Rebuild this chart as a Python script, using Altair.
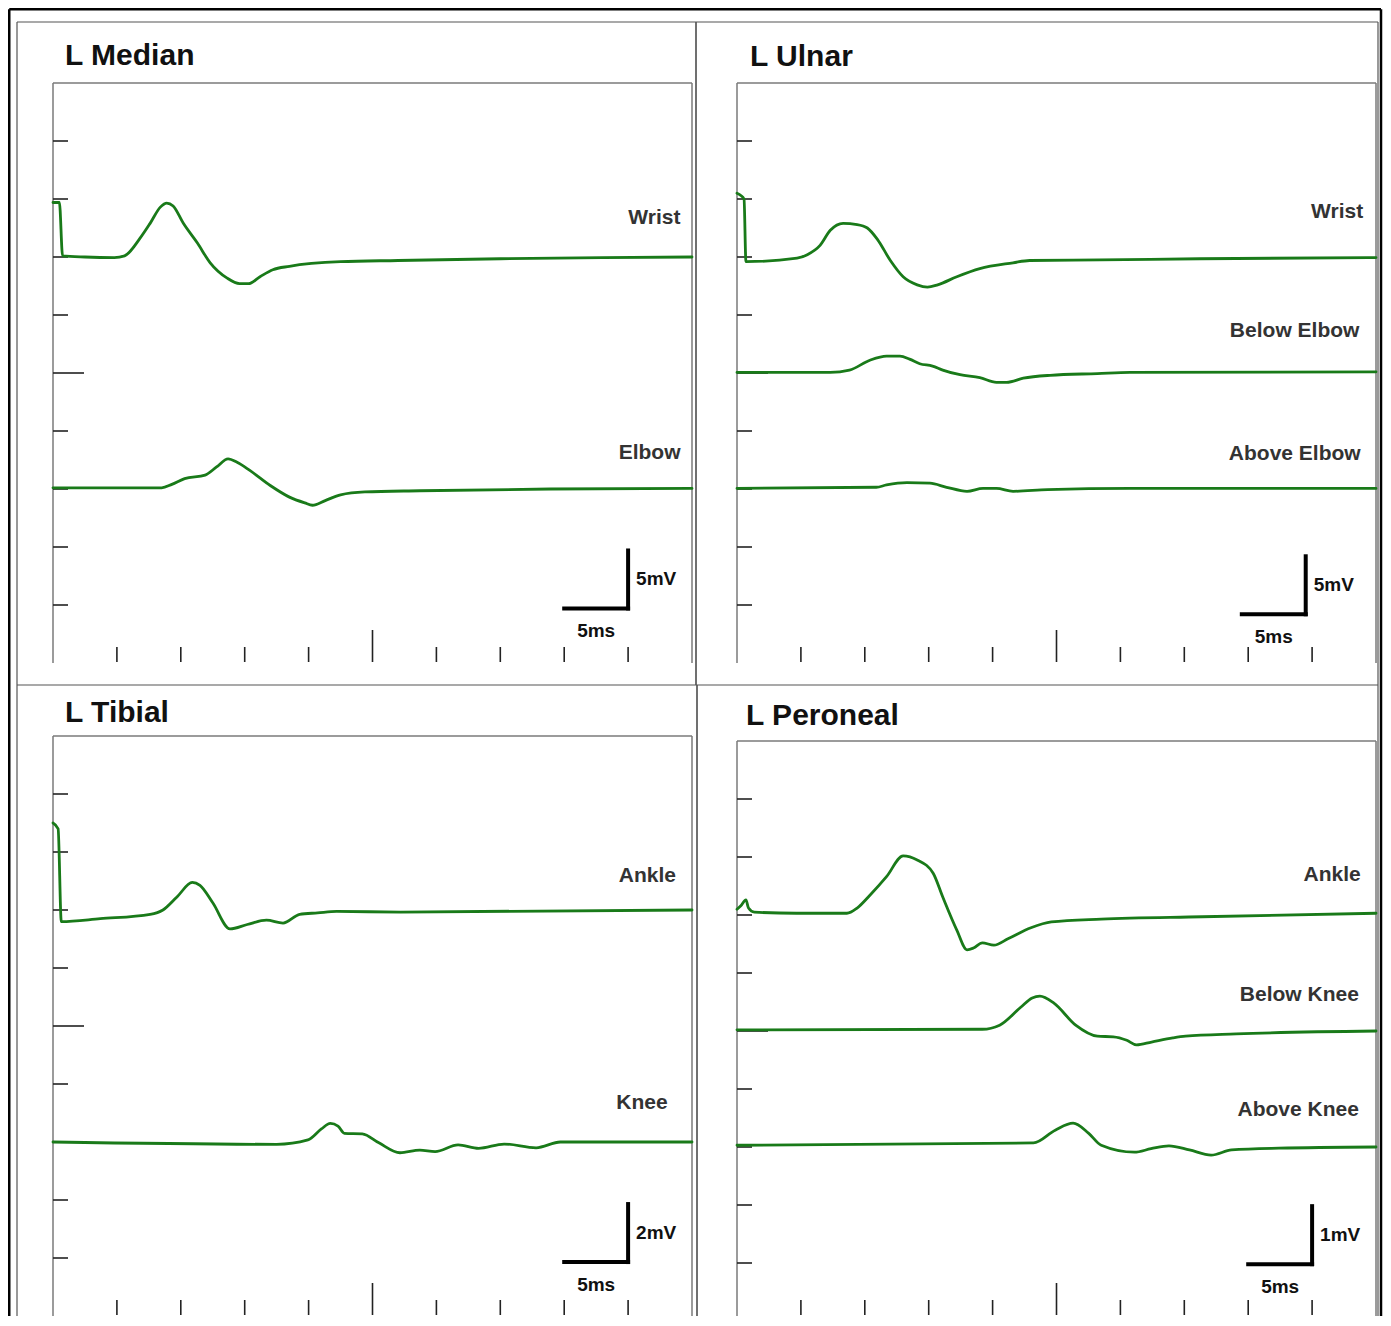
import altair as alt
import pandas as pd

# ---------------- data: time in ms, amplitude in mV ----------------
# L Median (5 mV / div)
median_wrist_t = [0, 0.5, 0.75, 2.5, 4.8, 5.6, 6.8, 7.6, 8.4, 8.9, 9.4, 10.2, 11.3, 12.3, 13.6, 14.6, 15.3, 16.2, 17.2, 18.5, 22.5, 27.0, 35.0, 43.0, 50.0]
median_wrist_v = [39.7, 39.7, 35.1, 35.0, 34.95, 35.1, 36.6, 37.9, 39.3, 39.65, 39.4, 37.9, 36.2, 34.5, 33.2, 32.7, 32.7, 33.3, 33.9, 34.2, 34.6, 34.7, 34.85, 34.95, 35.0]
median_elbow_t = [0, 8.5, 9.3, 10.3, 11.9, 12.8, 13.7, 14.4, 15.4, 17.0, 18.5, 19.7, 20.3, 21.3, 22.5, 24.4, 28.7, 38.9, 50]
median_elbow_v = [15.1, 15.1, 15.4, 15.9, 16.2, 16.9, 17.6, 17.3, 16.6, 15.3, 14.3, 13.8, 13.6, 14.0, 14.5, 14.75, 14.85, 15.0, 15.05]

# L Ulnar (5 mV / div)
ulnar_wrist_t = [0, 0.3, 0.55, 0.7, 4.7, 5.5, 6.5, 7.3, 8.3, 9.4, 10.2, 11.0, 12.0, 13.0, 14.1, 14.9, 15.7, 17.2, 19.0, 21.6, 22.9, 28.4, 36.2, 50]
ulnar_wrist_v = [40.5, 40.3, 40.0, 34.6, 34.9, 35.2, 36.0, 37.3, 37.9, 37.8, 37.5, 36.5, 34.7, 33.3, 32.6, 32.4, 32.6, 33.3, 34.0, 34.5, 34.7, 34.75, 34.85, 34.95]
ulnar_below_t = [0, 7.3, 8.8, 10.4, 11.7, 12.75, 13.5, 14.3, 15.3, 16.1, 17.45, 19.0, 20.3, 21.1, 22.4, 24.5, 28.2, 30.75, 50]
ulnar_below_v = [25.05, 25.05, 25.25, 26.1, 26.45, 26.45, 26.2, 25.8, 25.6, 25.25, 24.85, 24.6, 24.2, 24.2, 24.55, 24.8, 24.95, 25.05, 25.1]
ulnar_above_t = [0, 10.9, 11.7, 13.3, 15.1, 16.4, 18.0, 19.25, 20.3, 21.6, 24.3, 30.75, 50]
ulnar_above_v = [15.05, 15.15, 15.35, 15.55, 15.5, 15.15, 14.8, 15.05, 15.05, 14.8, 14.95, 15.05, 15.05]

# L Tibial (2 mV / div)
tibial_ankle_t = [0, 0.4, 0.65, 3.7, 7.6, 8.6, 9.7, 10.9, 11.5, 12.5, 13.85, 15.2, 16.7, 18.0, 19.3, 20.7, 22.2, 27.2, 50]
tibial_ankle_v = [17.0, 16.8, 13.6, 13.7, 13.85, 14.0, 14.45, 14.95, 14.85, 14.25, 13.35, 13.5, 13.65, 13.55, 13.85, 13.9, 13.95, 13.93, 14.0]
tibial_knee_t = [0, 17.5, 19.95, 21.0, 21.7, 22.3, 22.8, 24.2, 25.5, 27.15, 28.7, 29.9, 31.7, 33.3, 35.3, 37.8, 39.7, 50]
tibial_knee_v = [6.0, 5.92, 6.07, 6.45, 6.64, 6.55, 6.3, 6.28, 5.97, 5.63, 5.72, 5.67, 5.9, 5.78, 5.93, 5.8, 6.0, 6.0]

# L Peroneal (1 mV / div)
peroneal_ankle_t = [0, 0.3, 0.7, 0.9, 1.35, 4.65, 8.6, 9.4, 10.4, 11.7, 13.0, 14.1, 15.35, 16.1, 17.2, 18.0, 18.5, 19.2, 20.1, 21.2, 23.0, 24.6, 28.5, 36.4, 50]
peroneal_ankle_v = [7.1, 7.16, 7.26, 7.12, 7.05, 7.03, 7.03, 7.12, 7.34, 7.66, 8.02, 7.95, 7.72, 7.31, 6.74, 6.4, 6.43, 6.52, 6.48, 6.59, 6.78, 6.88, 6.93, 6.97, 7.03]
peroneal_below_t = [0, 19.2, 20.55, 22.2, 23.1, 23.7, 24.8, 26.5, 28.2, 29.45, 30.5, 31.26, 32.44, 34.1, 35.1, 39.06, 50]
peroneal_below_v = [5.02, 5.03, 5.1, 5.41, 5.57, 5.6, 5.48, 5.1, 4.91, 4.9, 4.84, 4.76, 4.81, 4.88, 4.91, 4.95, 5.0]
peroneal_above_t = [0, 23.2, 24.9, 26.3, 27.5, 28.5, 31.1, 32.4, 33.8, 35.4, 37.1, 38.7, 42.4, 50]
peroneal_above_v = [3.03, 3.07, 3.29, 3.41, 3.24, 3.03, 2.91, 2.97, 3.02, 2.95, 2.86, 2.95, 2.98, 3.0]

# trace labels (name, time, amplitude)
median_labels = {"name": ["Wrist", "Elbow"], "t": [49.1, 49.1], "v": [38.4, 18.1]}
ulnar_labels = {"name": ["Wrist", "Below Elbow", "Above Elbow"], "t": [49.0, 48.7, 48.8], "v": [38.9, 28.6, 18.0]}
tibial_labels = {"name": ["Ankle", "Knee"], "t": [48.75, 48.1], "v": [15.17, 7.34]}
peroneal_labels = {"name": ["Ankle", "Below Knee", "Above Knee"], "t": [48.8, 48.66, 48.66], "v": [7.69, 5.62, 3.64]}

# calibration bars: corner (time, amplitude)
median_bar = (45.0, 4.7)
ulnar_bar = (44.5, 4.2)
tibial_bar = (45.0, 1.86)
peroneal_bar = (45.0, 0.98)

X_TICKS = [5, 10, 15, 20, 30, 35, 40, 45]
X_MAJOR = [25]
SWEEP_MS = 50
BAR_MS = 5

# ---------------- styling ----------------
GREEN = "#197a19"
FONT = "Liberation Sans"
TICK = "#222222"
BOX = "#7a7a7a"
FRAME = "#555555"
W, H = 639, 580
ONE = alt.Data(values=[{"k": 0}])


def vrule(x, y1, y2, color, width):
    return alt.Chart(ONE).mark_rule(color=color, strokeWidth=width).encode(
        x=alt.value(x), y=alt.value(y1), y2=alt.value(y2))


def hrule(y, x1, x2, color, width):
    return alt.Chart(ONE).mark_rule(color=color, strokeWidth=width).encode(
        y=alt.value(y), x=alt.value(x1), x2=alt.value(x2))


def panel(title, title_xy, traces, labels, unit, corner, unit_text, frame, shift=0, extra=None):
    vmax = unit * 10
    off = shift * vmax / H  # move the recording window down by `shift` pixels
    xs = alt.Scale(domain=[0, SWEEP_MS], nice=False, zero=False)
    ys = alt.Scale(domain=[off, vmax + off], nice=False, zero=False)

    def X(f):
        return alt.X(f, type="quantitative", scale=xs, axis=None)

    def Y(f):
        return alt.Y(f, type="quantitative", scale=ys, axis=None)

    rows = [{"trace": n, "t": t, "v": v} for n, ts, vs in traces for t, v in zip(ts, vs)]
    lines = alt.Chart(pd.DataFrame(rows)).mark_line(
        color=GREEN, strokeWidth=2.8, interpolate="monotone",
        strokeJoin="round", strokeCap="round"
    ).encode(x=X("t"), y=Y("v"), detail="trace:N")

    xt = alt.Chart(pd.DataFrame({"t": X_TICKS})).mark_rule(color=TICK, strokeWidth=1.6).encode(
        x=X("t"), y=alt.value(H - 1), y2=alt.value(H - 16))
    xt_long = alt.Chart(pd.DataFrame({"t": X_MAJOR})).mark_rule(color=TICK, strokeWidth=1.6).encode(
        x=X("t"), y=alt.value(H - 1), y2=alt.value(H - 33))
    y_minor = [unit * k for k in (1, 2, 3, 4, 6, 7, 8, 9)]
    yt = alt.Chart(pd.DataFrame({"v": y_minor})).mark_rule(color=TICK, strokeWidth=1.6).encode(
        y=Y("v"), x=alt.value(0), x2=alt.value(15))
    yt_long = alt.Chart(pd.DataFrame({"v": [unit * 5]})).mark_rule(color=TICK, strokeWidth=1.6).encode(
        y=Y("v"), x=alt.value(0), x2=alt.value(31))

    lab = alt.Chart(pd.DataFrame(labels)).mark_text(
        align="right", baseline="middle", font=FONT, fontSize=21, fontWeight="bold", color="#333333"
    ).encode(x=X("t"), y=Y("v"), text="name:N")

    ct, cv = corner
    bar_df = pd.DataFrame({"t": [ct - BAR_MS, ct], "t2": [ct, ct], "v": [cv, cv], "v2": [cv, cv + unit]})
    bar = alt.Chart(bar_df).mark_rule(color="black", strokeWidth=4, strokeCap="square").encode(
        x=X("t"), x2="t2:Q", y=Y("v"), y2="v2:Q")
    mv = alt.Chart(pd.DataFrame({"t": [ct], "v": [cv + unit / 2], "s": [unit_text]})).mark_text(
        align="left", baseline="middle", dx=8, font=FONT, fontSize=19, fontWeight="bold", color="#111111"
    ).encode(x=X("t"), y=Y("v"), text="s:N")
    ms = alt.Chart(pd.DataFrame({"t": [ct - BAR_MS / 2], "v": [cv], "s": ["5ms"]})).mark_text(
        align="center", baseline="middle", dy=23, font=FONT, fontSize=19, fontWeight="bold", color="#111111"
    ).encode(x=X("t"), y=Y("v"), text="s:N")

    box = [vrule(0, shift, H, BOX, 1.5), vrule(W, shift, H, BOX, 1.5), hrule(shift, 0, W, BOX, 1.5)]
    fl, fr, ft, fb = frame
    frm = [vrule(fl, ft, fb, FRAME, 1.2), vrule(fr, ft, fb, FRAME, 1.2), hrule(ft, fl, fr, FRAME, 1.2)]
    ttl = alt.Chart(ONE).mark_text(
        align="left", baseline="alphabetic", font=FONT, fontSize=30, fontWeight="bold", color="#111111"
    ).encode(x=alt.value(title_xy[0]), y=alt.value(title_xy[1]), text=alt.value(title))

    layers = (extra or []) + frm + box + [xt, xt_long, yt, yt_long, lines, lab, bar, mv, ms, ttl]
    return alt.layer(*layers).properties(width=W, height=H)


border = [
    vrule(-43.75, -73.75, 1233, "black", 2.5),
    vrule(1328, -73.75, 1233, "black", 2.5),
    hrule(-73.75, -43.75, 1328, "black", 2.5),
]

tl = panel("L Median", (12, -18),
           [("Wrist", median_wrist_t, median_wrist_v), ("Elbow", median_elbow_t, median_elbow_v)],
           median_labels, 5, median_bar, "5mV", (-36, 643, -61, 602), extra=border)
tr = panel("L Ulnar", (13, -17),
           [("Wrist", ulnar_wrist_t, ulnar_wrist_v), ("Below Elbow", ulnar_below_t, ulnar_below_v),
            ("Above Elbow", ulnar_above_t, ulnar_above_v)],
           ulnar_labels, 5, ulnar_bar, "5mV", (-41, 641, -61, 602))
bl = panel("L Tibial", (12, -14),
           [("Ankle", tibial_ankle_t, tibial_ankle_v), ("Knee", tibial_knee_t, tibial_knee_v)],
           tibial_labels, 2, tibial_bar, "2mV", (-36, 644, -51, 580))
br = panel("L Peroneal", (9, -11),
           [("Ankle", peroneal_ankle_t, peroneal_ankle_v), ("Below Knee", peroneal_below_t, peroneal_below_v),
            ("Above Knee", peroneal_above_t, peroneal_above_v)],
           peroneal_labels, 1, peroneal_bar, "1mV", (-40, 641, -51, 580), shift=5)

chart = alt.concat(
    tl, tr, bl, br, columns=2, spacing={"row": 73, "column": 45}, bounds="flush"
).properties(padding=0, background="white").configure_view(strokeWidth=0)

chart.save("out.html", embed_options={"renderer": "svg", "actions": False})
